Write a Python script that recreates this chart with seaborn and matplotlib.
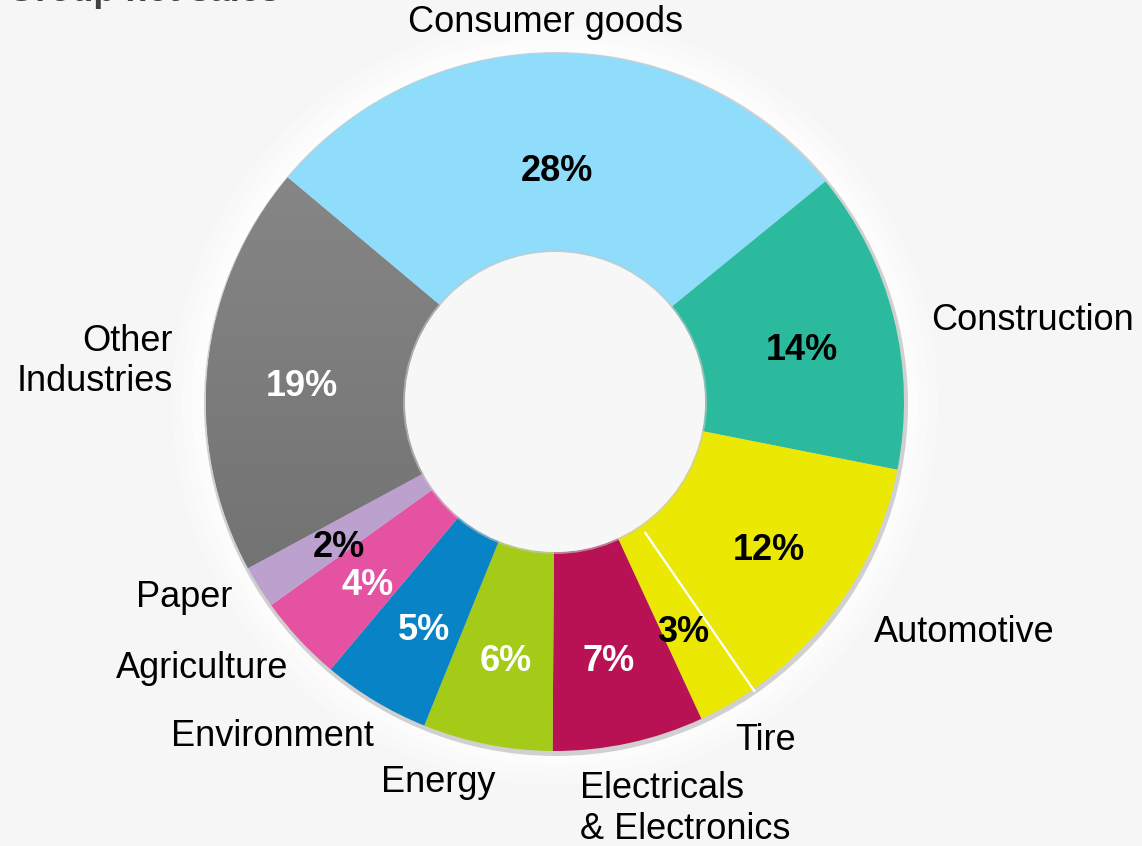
import numpy as np
import matplotlib
matplotlib.use("Agg")
import matplotlib.pyplot as plt
import seaborn as sns
from matplotlib.patches import Circle
from matplotlib.colors import LinearSegmentedColormap

# ---------------- data ----------------
categories = ["Consumer goods", "Construction", "Automotive", "Tire",
              "Electricals\n& Electronics", "Energy", "Environment",
              "Agriculture", "Paper", "Other\nIndustries"]
shares = [28, 14, 12, 3, 7, 6, 5, 4, 2, 19]
colors = ["#8fdcfb", "#2cba9e", "#ebe804", "#ebe804", "#b81255",
          "#a3cb17", "#0883c6", "#e652a2", "#bca0cd", "#7a7a7a"]
pct_text_colors = ["black", "black", "black", "black", "white",
                   "white", "white", "white", "black", "white"]
title = "Group net sales"

# label nudges in pixels (dx right, dy down) – layout only
label_nudge = [(0, 0), (7, 11), (0, 0), (-11, 10), (0, 3),
               (14, 7), (15, 8), (12, 8), (0, -6), (-4, -2)]

# ---------------- style ----------------
sns.set_theme(style="white")
plt.rcParams["font.family"] = ["Liberation Sans", "DejaVu Sans"]
palette = sns.color_palette(colors)

W, H = 1142, 846
BG = "#f6f6f6"
fig = plt.figure(figsize=(W / 100, H / 100), dpi=100, facecolor=BG)
ax = fig.add_axes([0, 0, 1, 1])
ax.set_facecolor(BG)

cx, cy = 555, H - 402
R, r_in = 349, 150

# soft glow + shadow behind the ring
for extra, a in [(34, 0.25), (24, 0.35), (14, 0.45), (6, 0.5)]:
    ax.add_patch(Circle((cx, cy), R + extra, fc="white", ec="none", alpha=a, zorder=0))
ax.add_patch(Circle((cx + 1, cy - 2), R + 3, fc="#9a9a9a", ec="none", alpha=0.45, zorder=0.5))

wedges, texts, autotexts = ax.pie(
    shares, colors=palette, startangle=140, counterclock=False,
    center=(cx, cy), radius=R, labels=categories, labeldistance=1.09,
    autopct=lambda p: f"{p:.0f}%", pctdistance=0.73,
    wedgeprops=dict(width=R - r_in, linewidth=0),
    textprops=dict(fontsize=26, color="black"))

for w in wedges:
    w.set_zorder(1)

# gradient on the "Other Industries" wedge
gray_cmap = LinearSegmentedColormap.from_list("g", ["#6a6a6a", "#8c8c8c"])
grad = np.linspace(0, 1, 256).reshape(-1, 1)
im = ax.imshow(grad, cmap=gray_cmap, extent=(cx - R, cx, cy - R, cy + R),
               origin="lower", aspect="auto", zorder=1.1)
im.set_clip_path(wedges[-1])

# white divider between Automotive and Tire
t_auto = {round(wedges[2].theta1, 4), round(wedges[2].theta2, 4)}
t_tire = {round(wedges[3].theta1, 4), round(wedges[3].theta2, 4)}
common = (t_auto & t_tire).pop()
ang = np.deg2rad(common - 1.0)
rr = np.array([r_in + 8, R + 3])
ax.plot(cx + rr * np.cos(ang), cy + rr * np.sin(ang), color="white", lw=1.6, zorder=2,
        solid_capstyle="butt")

# inner hole
ax.add_patch(Circle((cx, cy), r_in + 2, fc="#c9c9c9", ec="none", alpha=0.6, zorder=2.4))
ax.add_patch(Circle((cx, cy), r_in, fc="#f7f7f7", ec="none", zorder=2.5))

for i, (t, c) in enumerate(zip(autotexts, pct_text_colors)):
    t.set_color(c)
    t.set_fontweight("bold")
    t.set_fontsize(26)
    t.set_zorder(4)
    x, y = t.get_position()
    t.set_position((x, y - (24 if i == 0 else 10)))

for t in texts:
    t.set_zorder(4)
    x, y = t.get_position()
    t.set_ha("left" if x > cx else "right")
texts[0].set_ha("center")
texts[0].set_position((cx - 10, H - 22))
texts[2].set_position((874, H - 633))
texts[4].set_position((580, H - 806))
texts[4].set_ha("left")
for t, (dx, dy) in zip(texts, label_nudge):
    x, y = t.get_position()
    t.set_position((x + dx, y - dy))

fig.text(7 / W, 1 - 1.3 / H, title, fontsize=26, fontweight="bold", color="#404040",
         ha="left", va="baseline")

ax.set_xlim(0, W)
ax.set_ylim(0, H)
ax.set_aspect("equal")
ax.axis("off")

fig.savefig("out.png", dpi=100, facecolor=BG)
